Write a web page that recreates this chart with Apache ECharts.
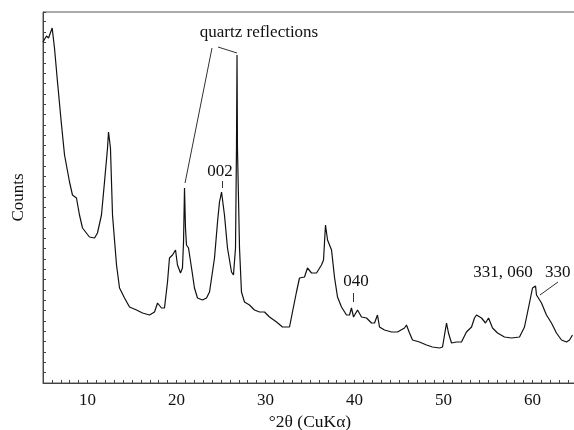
<!DOCTYPE html>
<html><head><meta charset="utf-8">
<script src="https://cdn.jsdelivr.net/npm/echarts@6/dist/echarts.min.js"></script>
<style>html,body{margin:0;padding:0;background:#fff}#c{width:574px;height:430px}</style>
</head><body><div id="c"></div>
<script>
// 2θ positions (degrees) of the traced pattern
const twoTheta = [5.0,5.39,5.62,6.03,6.29,6.63,7.08,7.42,7.98,8.31,8.76,9.10,9.44,10.22,10.79,11.12,11.57,11.91,12.25,12.36,12.58,12.81,13.26,13.60,14.16,14.72,15.51,16.18,16.97,17.53,17.87,18.31,18.65,18.99,19.21,19.55,19.89,20.11,20.45,20.67,20.79,20.90,21.01,21.12,21.35,21.69,22.02,22.36,22.92,23.37,23.71,24.27,24.61,24.83,25.06,25.39,25.73,26.18,26.40,26.63,26.74,26.80,26.85,27.08,27.30,27.64,28.20,28.76,29.33,29.89,30.45,31.24,31.91,32.70,33.03,33.48,33.82,34.38,34.72,35.17,35.73,36.29,36.52,36.74,36.97,37.42,37.75,38.09,38.54,39.10,39.44,39.66,39.89,40.34,40.79,41.35,41.91,42.25,42.58,42.81,43.37,44.16,44.83,45.62,45.84,46.18,46.52,47.30,48.09,48.76,49.55,49.89,50.34,50.56,50.90,51.46,52.02,52.58,53.15,53.48,53.71,54.27,54.72,55.06,55.51,56.07,56.85,57.64,58.54,59.10,59.66,60.00,60.34,60.45,61.01,61.57,62.13,62.69,63.26,63.82,64.16,64.49];
// intensity (arbitrary counts)
const counts = [3410,3470,3450,3550,3350,3010,2580,2280,2010,1880,1850,1680,1550,1460,1450,1500,1680,2010,2350,2510,2350,1680,1180,950,850,760,730,700,680,710,800,750,750,1010,1250,1280,1330,1180,1100,1150,1410,1950,1550,1380,1350,1150,950,850,830,850,910,1250,1610,1810,1910,1680,1350,1110,1080,1350,2350,3280,2350,1350,910,810,780,730,710,710,660,610,560,560,710,910,1050,1060,1150,1100,1100,1180,1230,1580,1430,1330,1060,860,760,680,680,750,660,730,660,650,600,600,680,560,530,510,510,550,580,500,430,410,380,360,350,360,600,500,400,410,410,510,560,650,680,650,600,650,550,500,460,450,460,560,800,950,970,880,800,680,600,500,430,410,430,480];
const xTickLabels = [10,20,30,40,50,60];
// annotation leader lines in data coords [[x1,y1],[x2,y2]]
const leaders = [
  [[23.99,3350],[20.96,2000]],
  [[24.66,3360],[26.80,3300]],
  [[25.11,2020],[25.11,1950]],
  [[39.83,900],[39.83,810]],
  [[62.87,1010],[60.84,880]]
];

const data = twoTheta.map((t,i)=>[t,counts[i]]);
const font = '"Liberation Serif", "DejaVu Serif", serif';
const chart = echarts.init(document.getElementById('c'));
const txt = (x,y,s,align)=>({type:'text',x:x,y:y,style:{text:s,font:'17px '+font,fill:'#111',textAlign:align||'center',textVerticalAlign:'middle'}});
chart.setOption({
  animation:false,
  backgroundColor:'#fff',
  grid:{left:43,top:12,right:-3,bottom:47,show:true,borderColor:'#555',borderWidth:1,outerBoundsMode:'none',containLabel:false},
  xAxis:{type:'value',min:5,max:65,interval:1,
    axisLine:{lineStyle:{color:'#444',width:1}},
    axisTick:{inside:true,length:3,lineStyle:{color:'#444'}},
    axisLabel:{color:'#111',fontFamily:font,fontSize:17,margin:9,
      formatter:v=>xTickLabels.includes(v)?String(v):''},
    splitLine:{show:false},
    name:'°2θ (CuKα)',nameLocation:'middle',nameGap:28,
    nameTextStyle:{color:'#111',fontFamily:font,fontSize:17.5}},
  yAxis:{type:'value',min:0,max:3710,interval:103.3,
    axisLine:{show:true,lineStyle:{color:'#444',width:1}},
    axisTick:{show:true,inside:true,length:3,lineStyle:{color:'#444'}},
    axisLabel:{show:false},splitLine:{show:false},
    name:'Counts',nameLocation:'middle',nameGap:16,nameRotate:90,
    nameTextStyle:{color:'#111',fontFamily:font,fontSize:17}},
  series:[{type:'line',data:data,showSymbol:false,symbol:'none',
    lineStyle:{color:'#111',width:1.2},
    markLine:{silent:true,symbol:'none',label:{show:false},
      lineStyle:{color:'#333',width:1,type:'solid'},
      data:leaders.map(l=>[{coord:l[0]},{coord:l[1]}])}}],
  graphic:[
    txt(259,33,'quartz reflections'),
    txt(220,172,'002'),
    txt(356,282,'040'),
    txt(503,273,'331, 060'),
    txt(545,273,'330','left')
  ]
});
</script></body></html>
